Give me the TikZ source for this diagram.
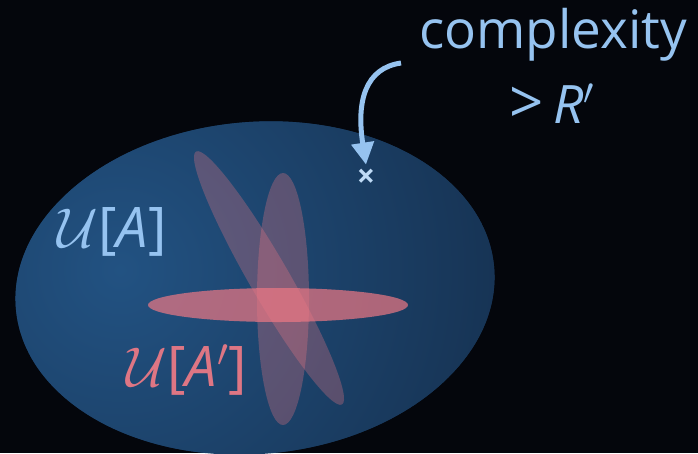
\documentclass[tikz,border=0pt]{standalone}
\usepackage{fix-cm}
\usepackage{fontspec}
\setmainfont{Open Sans}
\usetikzlibrary{arrows.meta}

\definecolor{bgdark}{RGB}{4,6,12}
\definecolor{setblue}{RGB}{22,50,82}
\definecolor{setglow}{RGB}{34,82,130}
\definecolor{labelblue}{RGB}{150,195,240}
\definecolor{labelpink}{RGB}{222,118,132}
\definecolor{blobpink}{RGB}{238,120,132}

\tikzset{
  blob/.style={fill=blobpink, fill opacity=0.3},
  bigtext/.style={font=\fontsize{53}{58}\selectfont, inner sep=0pt},
  settext/.style={font=\fontsize{56}{60}\selectfont, inner sep=0pt},
}

\begin{document}
\begin{tikzpicture}[x=1pt, y=-1pt]
    \fill[bgdark] (0,0) rectangle (698,453);
    \useasboundingbox (0,0) rectangle (698,453);

    % --- Set U[A] (big ellipse) ---
    \begin{scope}
        \clip (255,288) ellipse [x radius=240, y radius=166, rotate=5];
        \fill[setblue] (0,0) rectangle (698,453);
        \shade[inner color=setglow, outer color=setblue] (120,270) circle (400);
    \end{scope}

    % --- Set U[A'] (three thin ellipses) ---
    \fill[blob] (269,278) ellipse [x radius=146, y radius=20, rotate=-60];
    \fill[blob] (283,299) ellipse [x radius=26, y radius=126];
    \fill[blob, fill opacity=0.7] (278,305) ellipse [x radius=130, y radius=17];

    % Labels
    \node[settext, text=labelblue] (ua) at (112,232) {$\mathcal{U}$[\textit{A}]};
    \node[settext, text=labelpink] (uap) at (187,370) {$\mathcal{U}$[\textit{A}$'$]};

    % --- Point of high complexity ---
    \node[text=labelblue!60!white, font=\fontsize{32}{32}\selectfont\bfseries, inner sep=0pt] (mark) at (366,178) {×};
    \node[bigtext, text=labelblue] (cplx) at (553,35) {complexity};
    \node[bigtext, text=labelblue] (thr) at (552,104) {{\fontsize{60}{58}\selectfont >}\,\textit{R}$'$};

    % Arrow
    \coordinate (tail) at (401,63);
    \draw[-{Triangle[length=22pt, width=22pt]}, line width=5pt, labelblue]
        (tail) .. controls (366,68) and (356,100) .. ([yshift=4pt]mark.north);

\end{tikzpicture}
\end{document}
